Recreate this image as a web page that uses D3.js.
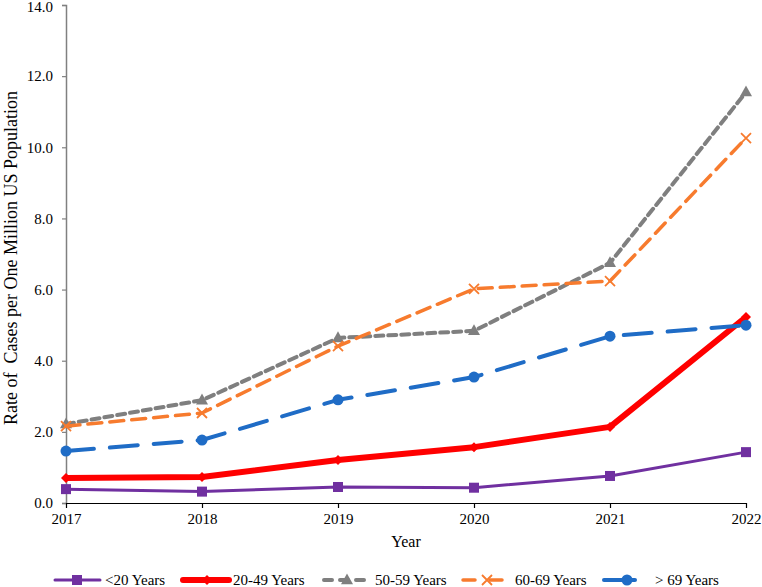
<!DOCTYPE html>
<html>
<head>
<meta charset="utf-8">
<script src="https://cdnjs.cloudflare.com/ajax/libs/d3/7.8.5/d3.min.js"></script>
<style>
  body { margin: 0; background: #fff; }
  svg text { font-family: "Liberation Serif", "Times New Roman", serif !important; }
</style>
</head>
<body>
<div id="chart"></div>
<script>
const years = [2017, 2018, 2019, 2020, 2021, 2022];
const seriesNames = ["<20 Years", "20-49 Years", "50-59 Years", "60-69 Years", "> 69 Years"];
const under20 = [0.39, 0.32, 0.45, 0.43, 0.76, 1.43];
const age20to49 = [0.70, 0.73, 1.21, 1.57, 2.14, 5.23];
const age50to59 = [2.22, 2.89, 4.64, 4.84, 6.75, 11.55];
const age60to69 = [2.16, 2.53, 4.41, 6.02, 6.24, 10.26];
const over69 = [1.46, 1.77, 2.90, 3.54, 4.69, 5.00];
const yTicks = [0, 2, 4, 6, 8, 10, 12, 14];

const chartW = 762, chartH = 587;
const plotLeft = 66, plotRight = 746, plotTop = 5, plotBottom = 503;

// style per series
const styles = [
  {color: "#7030a0", width: 3, dash: null, marker: "square"},
  {color: "#ff0000", width: 6, dash: null, marker: "diamond"},
  {color: "#7f7f7f", width: 4, dash: "8,5", marker: "triangle"},
  {color: "#f77b2e", width: 3.5, dash: "14,8", marker: "cross"},
  {color: "#1f6cc6", width: 4, dash: "28,16", marker: "circle"}
];
const allData = [under20, age20to49, age50to59, age60to69, over69];

const svg = d3.select("#chart").append("svg")
  .attr("width", chartW)
  .attr("height", chartH)
  .attr("font-family", "Liberation Serif");

let x = d3.scaleLinear().domain([2017, 2022]).range([plotLeft, plotRight]);
let y = d3.scaleLinear().domain([0, 14]).range([plotBottom, plotTop]);

// y axis
let yAxis = d3.axisLeft(y).tickValues(yTicks).tickSize(4).tickFormat(d3.format(".1f"));
let gy = svg.append("g")
  .attr("transform", `translate(${plotLeft},0)`)
  .call(yAxis)
  .attr("font-family", "Liberation Serif");
gy.select(".domain").attr("stroke", "#808080").attr("stroke-width", 1.5);
gy.selectAll(".tick line").attr("stroke", "#808080").attr("stroke-width", 1.2);
gy.selectAll(".tick text")
  .attr("x", -13)
  .attr("dy", d => d === 14 ? "0.45em" : "0.32em")
  .style("font-size", "15px")
  .attr("fill", "#000");

// x axis
let xAxis = d3.axisBottom(x).tickValues(years).tickSize(5).tickFormat(d3.format("d")).tickSizeOuter(0);
let gx = svg.append("g")
  .attr("transform", `translate(0,${plotBottom})`)
  .call(xAxis)
  .attr("font-family", "Liberation Serif");
gx.select(".domain").attr("stroke", "#000").attr("stroke-width", 1.2);
gx.selectAll(".tick line").attr("stroke", "#000").attr("stroke-width", 1.2);
gx.selectAll(".tick text")
  .attr("y", 10)
  .style("font-size", "15px")
  .attr("fill", "#000");

// axis titles
svg.append("text")
  .text("Year")
  .attr("x", (plotLeft + plotRight) / 2)
  .attr("y", 547)
  .attr("text-anchor", "middle")
  .style("font-size", "16px");
svg.append("text")
  .text("Rate of  Cases per One Million US Population")
  .attr("transform", `translate(17,258) rotate(-90)`)
  .attr("text-anchor", "middle")
  .style("font-size", "18px")
  .style("white-space", "pre");

function drawMarker(g, type, cx, cy, color, s) {
  if (type === "square") {
    g.append("rect").attr("x", cx - s).attr("y", cy - s).attr("width", 2 * s).attr("height", 2 * s).attr("fill", color);
  } else if (type === "diamond") {
    g.append("path").attr("d", `M${cx},${cy - s}L${cx + s},${cy}L${cx},${cy + s}L${cx - s},${cy}Z`).attr("fill", color);
  } else if (type === "triangle") {
    g.append("path").attr("d", `M${cx},${cy - s * 1.1}L${cx + s},${cy + s * 0.7}L${cx - s},${cy + s * 0.7}Z`).attr("fill", color);
  } else if (type === "cross") {
    g.append("path").attr("d", `M${cx - s},${cy - s}L${cx + s},${cy + s}M${cx - s},${cy + s}L${cx + s},${cy - s}`)
      .attr("stroke", color).attr("stroke-width", 1.8);
  } else if (type === "circle") {
    g.append("circle").attr("cx", cx).attr("cy", cy).attr("r", s).attr("fill", color);
  }
}

const markerSize = {square: 5, diamond: 5, triangle: 6, cross: 5, circle: 5.5};

let line = d3.line()
  .x((d, i) => x(years[i]))
  .y(d => y(d));

allData.forEach((vals, k) => {
  let st = styles[k];
  let g = svg.append("g").attr("class", "series");
  g.append("path")
    .datum(vals)
    .attr("d", line)
    .attr("fill", "none")
    .attr("stroke", st.color)
    .attr("stroke-width", st.width)
    .attr("stroke-dasharray", st.dash)
    .attr("stroke-linecap", st.dash ? "round" : "butt")
    .attr("stroke-linejoin", "round");
  vals.forEach((v, i) => drawMarker(g, st.marker, x(years[i]), y(v), st.color, markerSize[st.marker]));
});

// legend
const legendX = [55, 183, 324, 463, 604];
const legendLen = [45, 46, 41, 39, 31];
const legendMarkX = [77, 207, 347, 487, 627];
const legendTextX = [105, 233, 375, 515, 655];
const ly = 580;
let legend = svg.append("g").attr("class", "legend");
seriesNames.forEach((name, k) => {
  let st = styles[k];
  let x0 = legendX[k], x1 = legendX[k] + legendLen[k];
  legend.append("line")
    .attr("x1", x0).attr("x2", x1).attr("y1", ly).attr("y2", ly)
    .attr("stroke", st.color)
    .attr("stroke-width", st.width)
    .attr("stroke-dasharray", k === 2 ? "8,8" : (k === 3 ? "12,15" : null))
    .attr("stroke-linecap", "round");
  drawMarker(legend, st.marker, legendMarkX[k], ly, st.color, markerSize[st.marker]);
  legend.append("text")
    .text(name)
    .attr("x", legendTextX[k])
    .attr("y", ly)
    .attr("dy", "0.35em")
    .style("font-size", "15px");
});
</script>
</body>
</html>
